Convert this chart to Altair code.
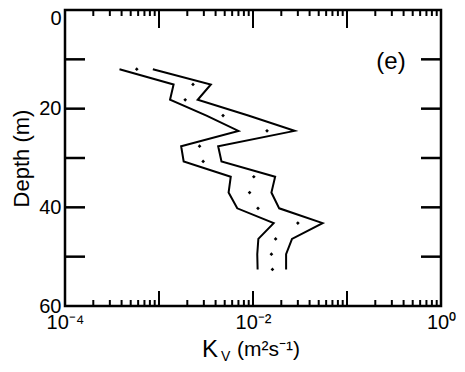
import altair as alt
import pandas as pd

# data
depth = [12.0, 15.1, 18.2, 21.4, 24.5, 27.6, 30.7, 33.8, 37.0, 40.2, 43.2, 46.4, 49.5, 52.6]
kv_mean = [5.8e-4, 2.3e-3, 1.9e-3, 4.8e-3, 1.41e-2, 2.7e-3, 2.95e-3, 1.02e-2, 9.2e-3, 1.13e-2, 3.0e-2, 1.74e-2, 1.57e-2, 1.61e-2]
kv_lower = [3.8e-4, 1.43e-3, 1.31e-3, 3.2e-3, 7.0e-3, 1.72e-3, 1.83e-3, 5.8e-3, 5.5e-3, 6.8e-3, 1.66e-2, 1.14e-2, 1.11e-2, 1.12e-2]
kv_upper = [8.6e-4, 3.56e-3, 2.58e-3, 8.9e-3, 2.77e-2, 4.26e-3, 4.62e-3, 1.72e-2, 1.57e-2, 1.9e-2, 5.5e-2, 2.6e-2, 2.25e-2, 2.25e-2]

x_major_ticks = [1e-4, 1e-3, 1e-2, 1e-1, 1.0]
x_minor_ticks = [2e-4, 3e-4, 4e-4, 5e-4, 6e-4, 7e-4, 8e-4, 9e-4,
                 2e-3, 3e-3, 4e-3, 5e-3, 6e-3, 7e-3, 8e-3, 9e-3,
                 2e-2, 3e-2, 4e-2, 5e-2, 6e-2, 7e-2, 8e-2, 9e-2,
                 2e-1, 3e-1, 4e-1, 5e-1, 6e-1, 7e-1, 8e-1, 9e-1]
y_ticks = [10, 20, 30, 40, 50]
x_labels = [1e-4, 1e-2, 1.0]
y_labels = [0, 20, 40, 60]

W, H = 376, 296
FONT = "Liberation Sans"

pts = pd.DataFrame({"depth": depth, "kv": kv_mean})
lines = pd.DataFrame({
    "depth": depth * 2,
    "kv": kv_lower + kv_upper,
    "bound": ["lower"] * len(depth) + ["upper"] * len(depth),
})

xs = alt.Scale(type="log", domain=[1e-4, 1.0], nice=False)
ys = alt.Scale(domain=[0, 60], reverse=True, nice=False)

x_axis = alt.Axis(values=x_labels, ticks=False, domain=False, grid=False,
                  labelExpr="datum.value < 0.001 ? '10⁻⁴' : (datum.value < 0.5 ? '10⁻²' : '10⁰')",
                  labelFontSize=20, labelFont=FONT, labelColor="black", labelPadding=6,
                  labelFlush=False, title=None)
y_axis = alt.Axis(values=y_labels, ticks=False, domain=False, grid=False,
                  labelFontSize=20, labelFont=FONT, labelColor="black", labelPadding=4,
                  labelBaseline={"condition": {"test": "datum.value == 0", "value": "top"}, "value": "middle"},
                  labelOffset={"condition": {"test": "datum.value == 0", "value": -2}, "value": 0},
                  labelFlush=False, title="Depth (m)", titleFontSize=22, titleFont=FONT,
                  titleFontWeight="normal", titleColor="black", titlePadding=5)

line_layer = alt.Chart(lines).mark_line(color="black", strokeWidth=2).encode(
    x=alt.X("kv:Q", scale=xs, axis=x_axis),
    y=alt.Y("depth:Q", scale=ys, axis=y_axis),
    detail="bound:N",
    order="depth:Q",
)

pt_layer = alt.Chart(pts).mark_point(shape="diamond", filled=True, color="black", size=14, opacity=1).encode(
    x=alt.X("kv:Q", scale=xs),
    y=alt.Y("depth:Q", scale=ys),
)

xmaj = pd.DataFrame({"kv": x_major_ticks})
xmin = pd.DataFrame({"kv": x_minor_ticks})
yt = pd.DataFrame({"depth": y_ticks})

def xtick(df, y0, y1):
    return alt.Chart(df).mark_rule(color="black", strokeWidth=2).encode(
        x=alt.X("kv:Q", scale=xs), y=alt.value(y0), y2=alt.value(y1))

def ytick(x0, x1):
    return alt.Chart(yt).mark_rule(color="black", strokeWidth=2.5).encode(
        y=alt.Y("depth:Q", scale=ys), x=alt.value(x0), x2=alt.value(x1))

ticks = [
    xtick(xmaj, 0, 18), xtick(xmin, 0, 6),
    xtick(xmaj, H, H - 15), xtick(xmin, H, H - 6),
    ytick(0, 20), ytick(W, W - 20),
]

one = pd.DataFrame({"a": [0]})

def txt(s, x, y, size, align="left", baseline="alphabetic"):
    return alt.Chart(one).mark_text(text=s, fontSize=size, font=FONT, color="black",
                                    align=align, baseline=baseline).encode(
        x=alt.value(x), y=alt.value(y))

texts = [
    txt("(e)", 326, 52, 24, align="center", baseline="middle"),
    txt("K", 137, 347, 24),
    txt("V", 156, 351, 14),
    txt("(m²s⁻¹)", 172, 346, 21),
]

chart = alt.layer(line_layer, pt_layer, *ticks, *texts).properties(
    width=W, height=H,
    padding={"left": 57, "top": 2, "right": 16, "bottom": 58},
    autosize="none",
).configure_view(stroke="black", strokeWidth=2.5)

chart.save("out.html", embed_options={"renderer": "svg", "actions": False})
